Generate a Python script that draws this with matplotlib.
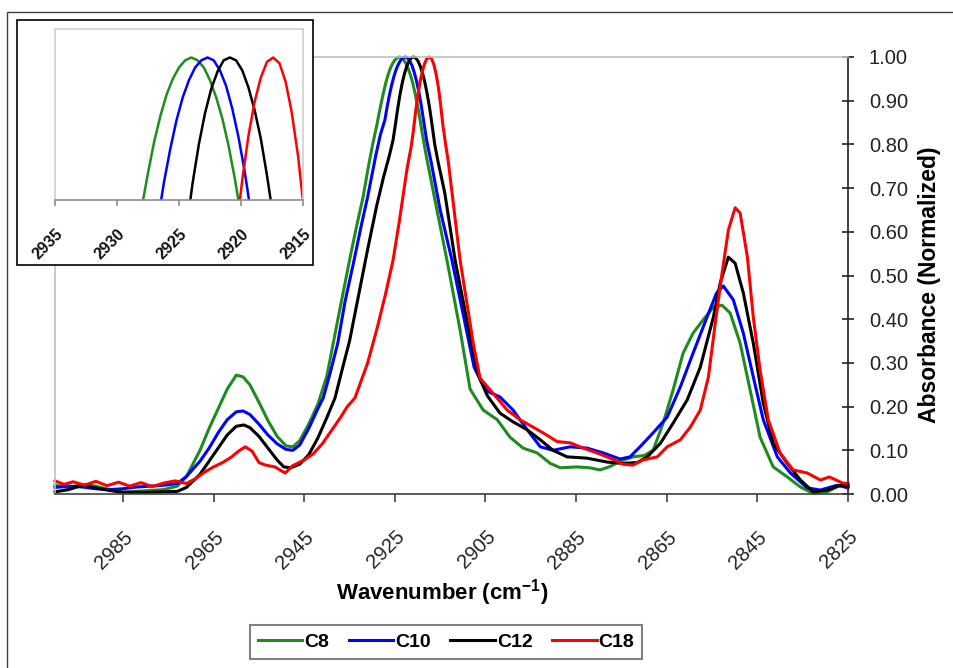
import matplotlib
matplotlib.use("Agg")
import matplotlib.pyplot as plt
from matplotlib.patches import Rectangle
from matplotlib.lines import Line2D

plt.rcParams['font.family'] = ['Liberation Sans', 'DejaVu Sans']
plt.rcParams['mathtext.fontset'] = 'custom'
plt.rcParams['mathtext.rm'] = 'Liberation Sans'
plt.rcParams['mathtext.bf'] = 'Liberation Sans:bold'

# ---- data (wavenumber, normalized absorbance) ----
wn_c8 = [3000, 2997, 2994, 2991, 2988, 2985, 2982, 2979, 2976, 2973, 2971, 2968, 2966, 2964,
         2962, 2960, 2958.5, 2957, 2955, 2953, 2951, 2949, 2947.5, 2946, 2944, 2942, 2940,
         2938.6, 2937, 2935, 2933.5, 2932, 2931, 2930, 2929, 2928.5, 2928, 2927.5, 2927,
         2926.5, 2926, 2925.5, 2925, 2924.5, 2924, 2923.5, 2923, 2922.5, 2922, 2921.5, 2921,
         2920.5, 2920, 2919.5, 2919, 2918, 2916, 2913.5, 2910.6, 2908.4, 2905.5, 2902.4,
         2899.6, 2896.7, 2893.6, 2890.7, 2888.5, 2884.8, 2882, 2879.7, 2877.5, 2875.3, 2872.4,
         2870, 2868, 2865.8, 2863.6, 2861.4, 2859.2, 2857, 2854.7, 2852.8, 2851, 2848.8,
         2846.6, 2844.4, 2841.5, 2838.4, 2835.5, 2832.7, 2829.6, 2826.7, 2825]
abs_c8 = [0.020, 0.015, 0.022, 0.018, 0.010, 0.004, 0.006, 0.008, 0.010, 0.018, 0.040, 0.100,
          0.150, 0.195, 0.240, 0.272, 0.268, 0.250, 0.210, 0.168, 0.132, 0.110, 0.108, 0.122,
          0.160, 0.205, 0.270, 0.345, 0.430, 0.535, 0.610, 0.680, 0.740, 0.795, 0.843, 0.870,
          0.895, 0.919, 0.941, 0.959, 0.974, 0.985, 0.993, 0.998, 1.000, 0.998, 0.993, 0.984,
          0.972, 0.957, 0.938, 0.915, 0.889, 0.860, 0.828, 0.770, 0.665, 0.535, 0.375, 0.240,
          0.192, 0.170, 0.130, 0.105, 0.094, 0.070, 0.060, 0.062, 0.060, 0.055, 0.063, 0.075,
          0.085, 0.088, 0.100, 0.162, 0.238, 0.322, 0.368, 0.398, 0.428, 0.432, 0.414, 0.345,
          0.238, 0.130, 0.062, 0.039, 0.016, 0.001, 0.005, 0.020, 0.020]

wn_c10 = [3000, 2997, 2994, 2991, 2988, 2985, 2982, 2979, 2976, 2973, 2971, 2968, 2966, 2964,
          2962, 2960, 2958.5, 2957, 2955, 2953, 2951, 2949, 2947.5, 2946, 2944, 2942, 2940.8,
          2939.2, 2937.6, 2936, 2934, 2932.5, 2931, 2929.2, 2928.2, 2927.2, 2926.7, 2926.2,
          2925.7, 2925.2, 2924.7, 2924.2, 2923.7, 2923.2, 2922.7, 2922.2, 2921.7, 2921.2,
          2920.7, 2920.2, 2919.7, 2919.2, 2918.7, 2918, 2917, 2915, 2912.4, 2909.1, 2907.5,
          2905.7, 2904.6, 2901.8, 2898.9, 2895.8, 2892.9, 2890.1, 2886.3, 2882.6, 2879, 2875.3,
          2873.1, 2870.9, 2868, 2864.9, 2862, 2859.2, 2856.1, 2854, 2852.5, 2850.3, 2848.1,
          2845.9, 2843.7, 2840.6, 2837.7, 2834, 2831.1, 2827.4, 2825]
abs_c10 = [0.015, 0.018, 0.016, 0.012, 0.010, 0.012, 0.016, 0.018, 0.020, 0.024, 0.040, 0.075,
           0.105, 0.140, 0.170, 0.188, 0.190, 0.182, 0.160, 0.135, 0.115, 0.102, 0.100, 0.112,
           0.150, 0.195, 0.220, 0.280, 0.345, 0.440, 0.535, 0.610, 0.680, 0.775, 0.822, 0.856,
           0.886, 0.913, 0.936, 0.956, 0.972, 0.984, 0.993, 0.998, 1.000, 0.998, 0.991, 0.980,
           0.964, 0.944, 0.920, 0.891, 0.857, 0.810, 0.760, 0.650, 0.535, 0.370, 0.290, 0.252,
           0.235, 0.222, 0.192, 0.147, 0.108, 0.100, 0.108, 0.105, 0.094, 0.080, 0.085, 0.108,
           0.140, 0.176, 0.245, 0.322, 0.405, 0.460, 0.476, 0.444, 0.368, 0.268, 0.170, 0.085,
           0.048, 0.014, 0.009, 0.020, 0.014]

wn_c12 = [3000, 2997, 2994, 2991, 2988, 2985, 2982, 2979, 2976, 2973, 2971, 2968, 2966, 2964,
          2962, 2960, 2958.3, 2957, 2955, 2953, 2951, 2949.5, 2948, 2946, 2944, 2942, 2940,
          2938.2, 2936.5, 2935, 2933, 2931, 2929, 2927.5, 2926.2, 2925.4, 2924.9, 2924.4,
          2923.9, 2923.4, 2922.9, 2922.4, 2921.9, 2921.4, 2920.9, 2920.4, 2919.9, 2919.4,
          2918.9, 2918.4, 2917.9, 2917.4, 2916.9, 2916.2, 2915.5, 2914, 2911.7, 2908.4, 2906.5,
          2904.6, 2901.8, 2898.9, 2895.8, 2892.9, 2890.1, 2887, 2882.6, 2878.1, 2874.6, 2871.5,
          2869.3, 2866.4, 2863.6, 2860.5, 2857.6, 2854.7, 2853.2, 2851.4, 2849.9, 2848.1,
          2845.9, 2843.7, 2841.5, 2838.4, 2835.5, 2832.7, 2829.6, 2826.7, 2825]
abs_c12 = [0.005, 0.010, 0.020, 0.014, 0.008, 0.004, 0.004, 0.004, 0.005, 0.006, 0.015, 0.045,
           0.075, 0.105, 0.135, 0.155, 0.158, 0.152, 0.132, 0.105, 0.078, 0.062, 0.060, 0.068,
           0.090, 0.128, 0.175, 0.220, 0.290, 0.350, 0.455, 0.560, 0.660, 0.725, 0.775, 0.810,
           0.844, 0.880, 0.912, 0.939, 0.961, 0.978, 0.990, 0.998, 1.000, 0.998, 0.991, 0.979,
           0.963, 0.943, 0.917, 0.888, 0.853, 0.800, 0.762, 0.690, 0.535, 0.360, 0.270, 0.225,
           0.185, 0.165, 0.147, 0.124, 0.100, 0.085, 0.082, 0.073, 0.070, 0.072, 0.085, 0.116,
           0.162, 0.215, 0.290, 0.405, 0.483, 0.542, 0.528, 0.460, 0.345, 0.208, 0.116, 0.070,
           0.032, 0.005, 0.009, 0.020, 0.018]

wn_c18 = [3000, 2998, 2996, 2993.5, 2991, 2988.5, 2986, 2983.5, 2981, 2978.5, 2976, 2973.5,
          2971, 2969, 2967, 2965, 2963, 2961, 2959.5, 2958, 2956.5, 2955, 2953.5, 2951.5,
          2949.2, 2947.5, 2945, 2943, 2941, 2939, 2937, 2935.5, 2933.8, 2931, 2928.9, 2927,
          2925.4, 2924, 2922.3, 2921.4, 2920.9, 2920.4, 2919.9, 2919.4, 2918.9, 2918.4, 2917.9,
          2917.4, 2916.9, 2916.4, 2915.9, 2915.4, 2914.9, 2914.4, 2913.8, 2913.2, 2910.6,
          2907.7, 2906.2, 2903.3, 2900.2, 2897.4, 2894.5, 2892.3, 2889.2, 2886.3, 2883.4,
          2880.4, 2877.5, 2874.6, 2872.5, 2870.2, 2867.1, 2864.9, 2862, 2859.8, 2857.6, 2855.8,
          2854.3, 2852.8, 2851.4, 2849.9, 2848.8, 2847.2, 2845.9, 2844.4, 2842.6, 2840, 2837.1,
          2834, 2831.1, 2829.1, 2826.2, 2825]
abs_c18 = [0.030, 0.022, 0.028, 0.020, 0.029, 0.019, 0.027, 0.018, 0.026, 0.017, 0.025, 0.030,
           0.024, 0.035, 0.050, 0.062, 0.072, 0.085, 0.098, 0.108, 0.098, 0.072, 0.066, 0.062,
           0.048, 0.065, 0.078, 0.092, 0.115, 0.145, 0.175, 0.200, 0.220, 0.300, 0.380, 0.460,
           0.535, 0.625, 0.745, 0.795, 0.832, 0.877, 0.914, 0.945, 0.969, 0.986, 0.997, 1.000,
           0.996, 0.983, 0.961, 0.931, 0.891, 0.844, 0.800, 0.760, 0.535, 0.345, 0.265, 0.230,
           0.192, 0.170, 0.153, 0.140, 0.120, 0.117, 0.105, 0.094, 0.082, 0.068, 0.066, 0.078,
           0.085, 0.108, 0.124, 0.153, 0.192, 0.268, 0.390, 0.505, 0.604, 0.655, 0.643, 0.542,
           0.405, 0.284, 0.170, 0.094, 0.055, 0.048, 0.032, 0.039, 0.025, 0.024]

series_names = ['C8', 'C10', 'C12', 'C18']
series_colors = ['#1e8c1e', '#0000ff', '#000000', '#ff0000']
series_wn = [wn_c8, wn_c10, wn_c12, wn_c18]
series_abs = [abs_c8, abs_c10, abs_c12, abs_c18]

main_xticks = [2985, 2965, 2945, 2925, 2905, 2885, 2865, 2845, 2825]
main_yticks = [0.0, 0.1, 0.2, 0.3, 0.4, 0.5, 0.6, 0.7, 0.8, 0.9, 1.0]
inset_xticks = [2935, 2930, 2925, 2920, 2915]

W, H = 954, 668
fig = plt.figure(figsize=(W / 100, H / 100), dpi=100)

# outer frame (right/bottom edges fall outside the picture)
fig.add_artist(Rectangle((7 / W, -0.1), 1.2, 1 - 12 / H + 0.1, transform=fig.transFigure,
                         fill=False, edgecolor='#404040', linewidth=1.0, zorder=0))

# ---- main spectrum ----
ax = fig.add_axes([55 / W, 1 - 494 / H, 793 / W, 437 / H], zorder=0)
for wn, ab, c in zip(series_wn, series_abs, series_colors):
    ax.plot(wn, ab, color=c, linewidth=2.2, clip_on=False, solid_joinstyle='round')

ax.set_xlim(3000, 2825)
ax.set_ylim(0, 1.0)
ax.spines['left'].set_color('#c0c0c0')
ax.spines['top'].set_color('#c0c0c0')
ax.spines['bottom'].set_color('#404040')
ax.spines['right'].set_color('#202020')
for s in ax.spines.values():
    s.set_linewidth(1.2)

ax.set_xticks(main_xticks)
ax.set_xticklabels([str(t) for t in main_xticks], rotation=45, ha='right',
                   rotation_mode='anchor')
ax.tick_params(axis='x', direction='out', length=6, width=1.2, color='#404040',
               labelsize=14.5, labelcolor='#222222', pad=18)

ax.yaxis.tick_right()
ax.set_yticks(main_yticks)
ax.set_yticklabels(['%.2f' % v for v in main_yticks])
ax.tick_params(axis='y', direction='inout', length=8, width=1.2, color='#202020',
               labelsize=14.5, labelcolor='#222222', pad=11)

fig.text(442 / W, 1 - 593 / H, r'Wavenumber (cm$^{\mathbf{-1}}$)', ha='center',
         va='center', fontsize=16, fontweight='bold')
fig.text(930 / W, 1 - 285 / H, 'Absorbance (Normalized)', rotation=90, ha='center',
         va='center', fontsize=16.5, fontweight='bold')

# ---- inset (zoom on the 2920 peak) ----
fig.add_artist(Rectangle((17 / W, 1 - 265 / H), 296 / W, 245 / H, transform=fig.transFigure,
                         facecolor='white', edgecolor='black', linewidth=1.2, zorder=2))
ax_in = fig.add_axes([55 / W, 1 - 200 / H, 248 / W, 171 / H], zorder=3)
for wn, ab, c in zip(series_wn, series_abs, series_colors):
    ax_in.plot(wn, ab, color=c, linewidth=1.8, solid_joinstyle='round')
ax_in.set_xlim(2935, 2915)
ax_in.set_ylim(0.90, 1.02)
for side in ['left', 'top', 'right']:
    ax_in.spines[side].set_color('#d0d0d0')
ax_in.spines['bottom'].set_color('#8c8c8c')
for s in ax_in.spines.values():
    s.set_linewidth(1.2)
ax_in.set_yticks([])
ax_in.set_xticks(inset_xticks)
ax_in.set_xticklabels([str(t) for t in inset_xticks], rotation=45, ha='right',
                      rotation_mode='anchor', fontweight='bold')
ax_in.tick_params(axis='x', direction='out', length=4, width=1.2, color='#8c8c8c',
                  labelsize=11.5, labelcolor='#111111', pad=15)

# ---- legend ----
handles = [Line2D([], [], color=c, linewidth=2.2) for c in series_colors]
leg = fig.legend(handles, series_names, loc='center', bbox_to_anchor=(446 / W, 1 - 642 / H),
                 ncol=4, frameon=True, fancybox=False, edgecolor='#606060',
                 prop={'weight': 'bold', 'size': 14}, handlelength=2.3, handletextpad=0.1,
                 columnspacing=1.0, borderpad=0.4)
leg.get_frame().set_linewidth(1.5)

fig.savefig('out.png', dpi=100)
plt.close(fig)
